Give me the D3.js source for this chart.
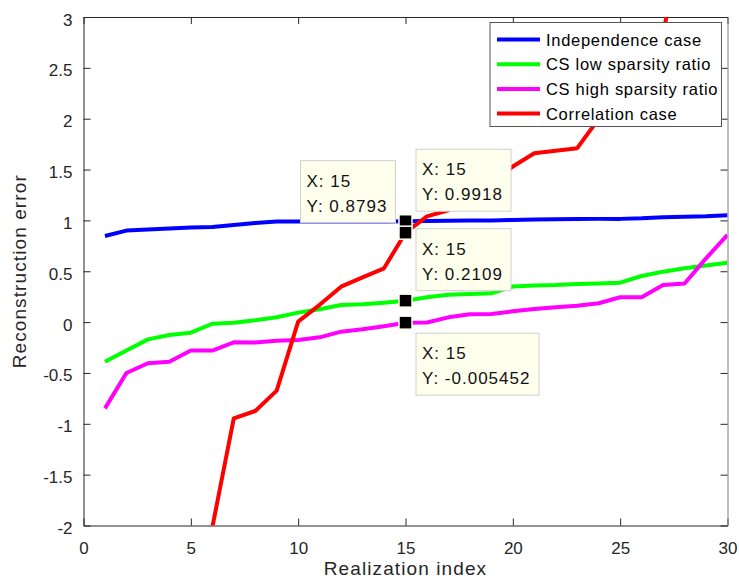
<!DOCTYPE html>
<html>
<head>
<meta charset="utf-8">
<script src="https://cdn.jsdelivr.net/npm/d3@7"></script>
<style>
  html, body { margin: 0; padding: 0; background: #fff; }
  svg { display: block; font-family: "Liberation Sans", Arial, Helvetica, sans-serif; }
</style>
</head>
<body>
<svg id="chart" width="739" height="588"></svg>
<script>
// ---------------- data ----------------
const realization = d3.range(1, 31);
const independence = [0.847, 0.90, 0.91, 0.92, 0.93, 0.935, 0.955, 0.975, 0.99, 0.99,
                      0.99, 0.99, 0.99, 0.99, 0.9918, 0.995, 0.997, 1.0, 1.0, 1.005,
                      1.01, 1.012, 1.013, 1.015, 1.015, 1.02, 1.03, 1.035, 1.04, 1.05];
const csLow = [-0.39, -0.28, -0.17, -0.127, -0.104, -0.016, -0.006, 0.018, 0.047, 0.093,
               0.126, 0.168, 0.175, 0.19, 0.2109, 0.244, 0.27, 0.276, 0.283, 0.35,
               0.36, 0.365, 0.375, 0.38, 0.388, 0.453, 0.496, 0.529, 0.557, 0.584];
const csHigh = [-0.848, -0.50, -0.405, -0.389, -0.28, -0.28, -0.199, -0.20, -0.183, -0.176,
                -0.15, -0.094, -0.07, -0.04, -0.005452, -0.004, 0.047, 0.077, 0.08, 0.106,
                0.129, 0.145, 0.161, 0.185, 0.244, 0.244, 0.365, 0.38, 0.627, 0.857];
const correlation = [-4.5, -3.9, -3.2, -2.8, -2.4, -2.02, -0.946, -0.874, -0.674, 0.004,
                     0.17, 0.348, 0.44, 0.529, 0.8793, 1.04, 1.10, 1.2, 1.35, 1.53,
                     1.66, 1.685, 1.71, 2.0, 2.2, 2.5, 2.85, 3.8, 4.5, 5.5];
const seriesNames = ["Independence case", "CS low sparsity ratio", "CS high sparsity ratio", "Correlation case"];
const seriesColors = ["#0000ff", "#00ff00", "#ff00ff", "#ff0000"];
const xTicks = [0, 5, 10, 15, 20, 25, 30];
const yTicks = [-2, -1.5, -1, -0.5, 0, 0.5, 1, 1.5, 2, 2.5, 3];
const tipX = 15;
const tipValues = [0.9918, 0.8793, 0.2109, -0.005452];

// ---------------- layout ----------------
const svg = d3.select("#chart");
const L = 83.5, R = 727.5, T = 17, B = 525.5;
const x = d3.scaleLinear().domain([0, 30]).range([L, R]);
const y = d3.scaleLinear().domain([-2, 3]).range([B, T]);
const axisColor = "#262626";

svg.append("defs").append("clipPath").attr("id", "plotclip")
  .append("rect").attr("x", L).attr("y", T).attr("width", R - L).attr("height", B - T);

// axes
const fmt = d => String(d);
const tickLen = 7;
const gx = svg.append("g").attr("transform", `translate(0,${B})`)
  .call(d3.axisBottom(x).tickValues(xTicks).tickFormat(fmt).tickSizeInner(-tickLen).tickSizeOuter(0).tickPadding(16.5));
const gxt = svg.append("g").attr("transform", `translate(0,${T})`)
  .call(d3.axisTop(x).tickValues(xTicks).tickFormat("").tickSizeInner(-tickLen).tickSizeOuter(0));
const gy = svg.append("g").attr("transform", `translate(${L},0)`)
  .call(d3.axisLeft(y).tickValues(yTicks).tickFormat(fmt).tickSizeInner(-tickLen).tickSizeOuter(0).tickPadding(11));
const gyr = svg.append("g").attr("transform", `translate(${R},0)`)
  .call(d3.axisRight(y).tickValues(yTicks).tickFormat("").tickSizeInner(-tickLen).tickSizeOuter(0));
[gx, gxt, gy, gyr].forEach(g => {
  g.select(".domain").attr("stroke", axisColor);
  g.selectAll(".tick line").attr("stroke", axisColor);
  g.selectAll(".tick text").attr("fill", axisColor).style("font-size", "17px")
    .style("font-family", "'Liberation Sans', Arial, sans-serif");
});
gy.selectAll(".tick text").attr("dy", "0.47em");
gyr.select(".domain").attr("stroke", "#808080");

// axis labels
svg.append("text").attr("x", (L + R) / 2).attr("y", 575).attr("text-anchor", "middle")
  .attr("fill", axisColor).style("font-size", "19px").style("letter-spacing", "1.1px")
  .text("Realization index");
svg.append("text").attr("transform", `translate(26,${(T + B) / 2}) rotate(-90)`)
  .attr("text-anchor", "middle").attr("fill", axisColor).style("font-size", "19px")
  .style("letter-spacing", "1.1px").text("Reconstruction error");

// lines
const allSeries = [independence, csLow, csHigh, correlation];
const line = d3.line().x((d, i) => x(realization[i])).y(d => y(d));
const plot = svg.append("g").attr("clip-path", "url(#plotclip)");
allSeries.forEach((s, k) => {
  plot.append("path").datum(s).attr("d", line).attr("fill", "none")
    .attr("stroke", seriesColors[k]).attr("stroke-width", 4).attr("stroke-linejoin", "round");
});

// legend
const lg = svg.append("g");
lg.append("rect").attr("x", 490).attr("y", 22.5).attr("width", 231.5).attr("height", 104)
  .attr("fill", "#fff").attr("stroke", "#555").attr("stroke-width", 1);
seriesNames.forEach((name, k) => {
  const cy = 39.5 + k * 24.7;
  lg.append("line").attr("x1", 497).attr("x2", 540).attr("y1", cy).attr("y2", cy)
    .attr("stroke", seriesColors[k]).attr("stroke-width", 4);
  lg.append("text").attr("x", 546).attr("y", cy + 6).attr("fill", "#000")
    .style("font-size", "16.5px").style("letter-spacing", "0.7px").text(name);
});

// data tips
const tipBoxes = [
  { side: "right", above: true,  w: 95 },
  { side: "left",  above: true,  w: 95 },
  { side: "right", above: true,  w: 95 },
  { side: "right", above: false, w: 123 }
];
const tipG = svg.append("g");
tipValues.forEach((v, k) => {
  const px = x(tipX), py = y(v);
  const b = tipBoxes[k];
  const bx = b.side === "right" ? px + 10.5 : px - 10 - b.w;
  const by = b.above ? py - 72 : py + 10.5;
  tipG.append("rect").attr("x", bx).attr("y", by).attr("width", b.w).attr("height", 62)
    .attr("fill", "#ffffee").attr("stroke", "#cfcfcf").attr("stroke-width", 1);
  tipG.append("text").attr("x", bx + 6).attr("y", by + 26).attr("fill", "#111")
    .style("font-size", "17px").style("letter-spacing", "1px").text("X: " + tipX);
  tipG.append("text").attr("x", bx + 6).attr("y", by + 51).attr("fill", "#111")
    .style("font-size", "17px").style("letter-spacing", "1px").text("Y: " + v);
});
tipValues.forEach(v => {
  tipG.append("rect").attr("x", x(tipX) - 6.5).attr("y", y(v) - 6.5).attr("width", 13).attr("height", 13)
    .attr("fill", "#000").attr("stroke", "#ffffee").attr("stroke-width", 1.5);
});
</script>
</body>
</html>
